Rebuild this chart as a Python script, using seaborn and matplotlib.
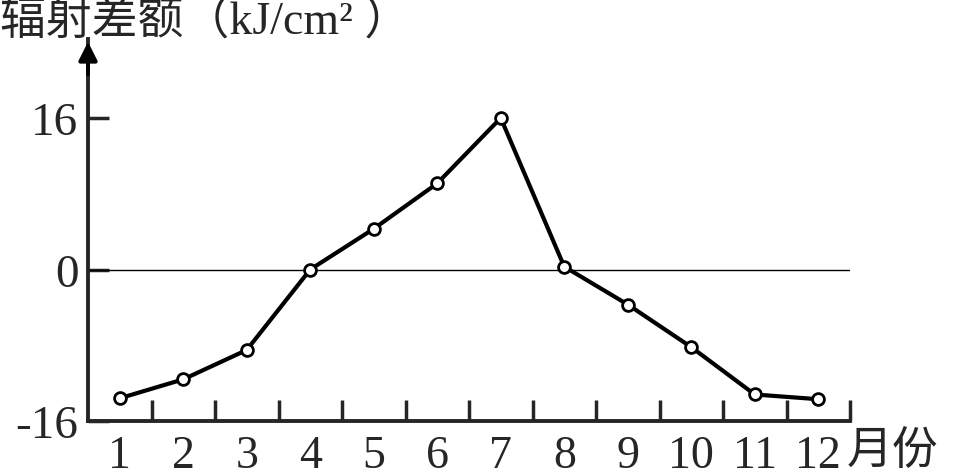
# 辐射差额 line chart
import numpy as np
import matplotlib
matplotlib.use("Agg")
import matplotlib.pyplot as plt
from matplotlib.ticker import FixedLocator
import seaborn as sns

# -----------------------------------------
# Data
# -----------------------------------------

months = [1, 2, 3, 4, 5, 6, 7, 8, 9, 10, 11, 12]
radiation = [-13.6, -11.6, -8.5, 0.0, 4.3, 9.1, 16.0, 0.3, -3.7, -8.2, -13.2, -13.7]
y_ticks = [-16, 0, 16]
month_labels = ["1", "2", "3", "4", "5", "6", "7", "8", "9", "10", "11", "12"]

title = "辐射差额（kJ/cm² ）"
x_unit = "月份"

# -----------------------------------------
# Style
# -----------------------------------------

sns.set_style("ticks")
fonts = ["Liberation Serif", "Noto Sans CJK SC", "DejaVu Sans"]
plt.rcParams["font.family"] = fonts

fig = plt.figure(figsize=(9.61, 4.77), dpi=100)
ax = fig.add_axes([88 / 961, 55 / 477, (850 - 88) / 961, (422 - 40) / 477])

sns.lineplot(
    x=months,
    y=radiation,
    ax=ax,
    color="black",
    linewidth=3.0,
    marker="o",
    markersize=8.5,
    markerfacecolor="white",
    markeredgecolor="black",
    markeredgewidth=2.0,
    zorder=3
)

ax.axhline(0, color="black", linewidth=1.0, zorder=1)

ax.set_xlim(0.5, 12.5)
ax.set_ylim(-16, 16 + (119 - 40) / ((422 - 119) / 32))

ax.set_yticks(y_ticks)
ax.set_yticklabels([str(v) for v in y_ticks])
ax.set_xticks(months)
ax.set_xticklabels(month_labels)
ax.xaxis.set_minor_locator(FixedLocator(np.arange(1.5, 13, 1.0)))

ax.tick_params(axis="x", which="major", length=0, pad=10, labelsize=33)
ax.tick_params(axis="x", which="minor", direction="in", length=15, width=2.5)
ax.tick_params(axis="y", which="major", direction="in", length=15, width=2.5,
               pad=7, labelsize=34)

for side in ["top", "right"]:
    ax.spines[side].set_visible(False)
for side in ["left", "bottom"]:
    ax.spines[side].set_linewidth(2.8)

ax.set_xlabel("")
ax.set_ylabel("")

# arrow on y axis
ax.annotate(
    "",
    xy=(0, 1.0),
    xytext=(0, 0.9),
    xycoords="axes fraction",
    arrowprops=dict(arrowstyle="-|>", color="black", lw=2.8, mutation_scale=28),
    annotation_clip=False
)

# unit next to the last month
ax.text(12.45, -19.4, x_unit, fontsize=33, ha="left", va="center", family=fonts)

fig.text(0.0, 1.0, title, fontsize=33, ha="left", va="top", family=fonts)

fig.savefig("out.png", dpi=100)
